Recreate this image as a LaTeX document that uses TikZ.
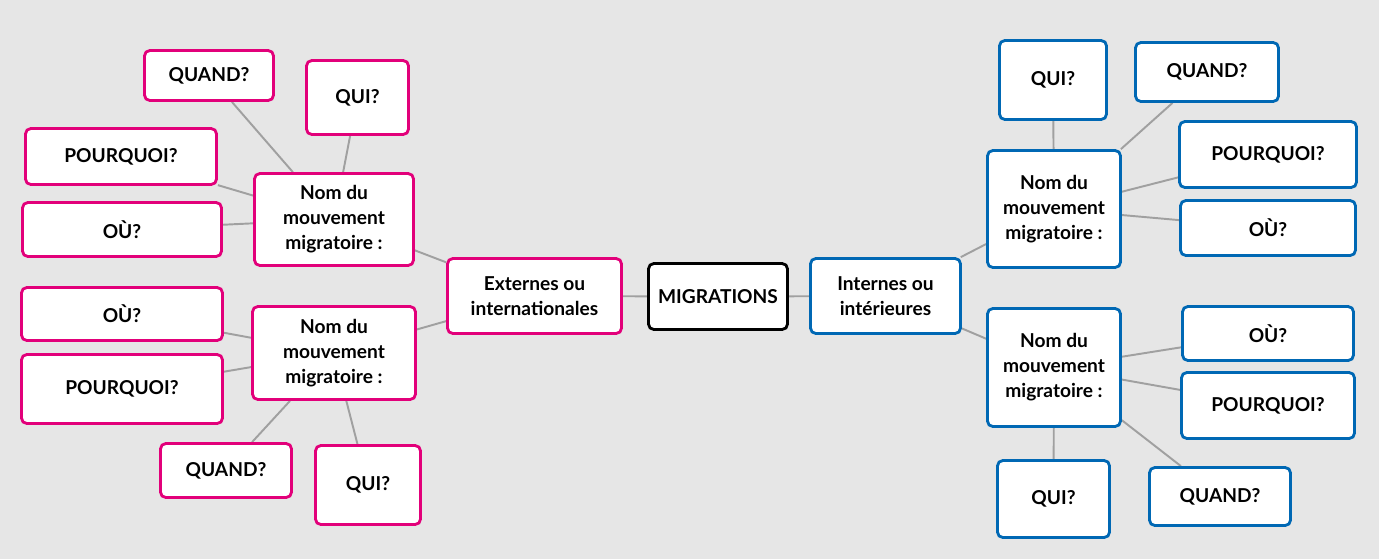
\documentclass[tikz,border=0pt]{standalone}
\usepackage{fontspec}
\setmainfont{Lato}
\usetikzlibrary{backgrounds}
\definecolor{roseExt}{RGB}{226,0,122}
\definecolor{bleuInt}{RGB}{0,104,180}
\definecolor{grisFond}{RGB}{230,230,230}
\definecolor{grisLien}{RGB}{160,160,160}

\begin{document}
\begin{tikzpicture}[x=0.02cm,y=-0.02cm,
  font=\fontsize{10.9}{14.2}\selectfont\bfseries,
  bloc/.style={rectangle,rounded corners=3pt,line width=1.6pt,fill=white,
               align=center,inner sep=2pt},
  blocExt/.style={bloc,draw=roseExt},
  blocInt/.style={bloc,draw=bleuInt},
  taille/.style 2 args={minimum width=#1cm,minimum height=#2cm},
  lien/.style={grisLien,line width=1.1pt}]

  % centre
  \node[bloc,draw=black,taille={2.78}{1.32}] (M) at (718,296.5) {MIGRATIONS};

  % migrations externes
  \node[blocExt,taille={3.48}{1.50}] (E) at (534.5,296) {Externes ou\\internationales};
  \node[blocExt,taille={3.18}{1.84}] (E1) at (334,219.5) {Nom du\\mouvement\\migratoire :};
  \node[blocExt,taille={2.58}{1.00}] (E1qd) at (209,75.5) {QUAND?};
  \node[blocExt,taille={2.04}{1.48}] (E1qi) at (357.5,97.5) {QUI?};
  \node[blocExt,taille={3.82}{1.12}] (E1pq) at (121,156.5) {POURQUOI?};
  \node[blocExt,taille={3.98}{1.08}] (E1ou) at (122,229.5) {OÙ?};
  \node[blocExt,taille={3.26}{1.86}] (E2) at (334,353) {Nom du\\mouvement\\migratoire :};
  \node[blocExt,taille={4.02}{1.06}] (E2ou) at (122,314) {OÙ?};
  \node[blocExt,taille={4.02}{1.38}] (E2pq) at (122,389) {POURQUOI?};
  \node[blocExt,taille={2.62}{1.08}] (E2qd) at (226,470.5) {QUAND?};
  \node[blocExt,taille={2.10}{1.58}] (E2qi) at (368,485) {QUI?};

  % migrations internes
  \node[blocInt,taille={3.00}{1.50}] (I) at (885.5,296) {Internes ou\\intérieures};
  \node[blocInt,taille={2.66}{2.34}] (I1) at (1054,209) {Nom du\\mouvement\\migratoire :};
  \node[blocInt,taille={2.14}{1.58}] (I1qi) at (1053,80) {QUI?};
  \node[blocInt,taille={2.86}{1.18}] (I1qd) at (1207,72) {QUAND?};
  \node[blocInt,taille={3.54}{1.32}] (I1pq) at (1268,154.5) {POURQUOI?};
  \node[blocInt,taille={3.50}{1.10}] (I1ou) at (1268,228) {OÙ?};
  \node[blocInt,taille={2.66}{2.36}] (I2) at (1054,367.5) {Nom du\\mouvement\\migratoire :};
  \node[blocInt,taille={3.42}{1.08}] (I2ou) at (1268,333.5) {OÙ?};
  \node[blocInt,taille={3.46}{1.32}] (I2pq) at (1268,405.5) {POURQUOI?};
  \node[blocInt,taille={2.82}{1.16}] (I2qd) at (1220,496.5) {QUAND?};
  \node[blocInt,taille={2.24}{1.54}] (I2qi) at (1053.5,499) {QUI?};

  \begin{scope}[on background layer]
    \fill[grisFond] (0,0) rectangle (1379,559);
    \foreach \a/\b in {M/E,M/I,E/E1,E/E2,I/I1,I/I2,
                       E1/E1qd,E1/E1qi,E1/E1pq,E1/E1ou,
                       E2/E2ou,E2/E2pq,E2/E2qd,E2/E2qi,
                       I1/I1qi,I1/I1qd,I1/I1pq,I1/I1ou,
                       I2/I2ou,I2/I2pq,I2/I2qd,I2/I2qi}
      \draw[lien] (\a) -- (\b);
  \end{scope}
\end{tikzpicture}
\end{document}
